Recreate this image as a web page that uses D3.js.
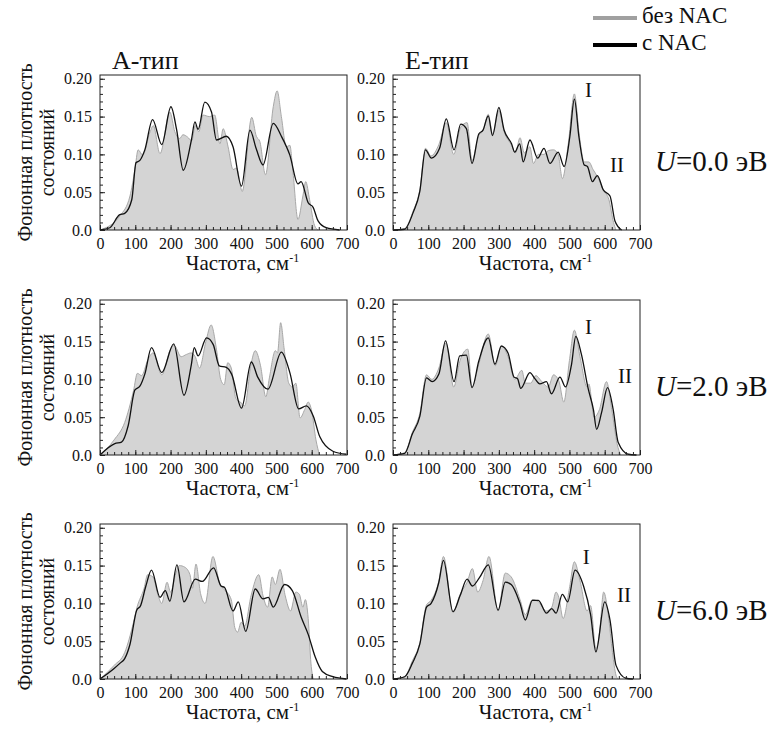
<!DOCTYPE html>
<html>
<head>
<meta charset="utf-8">
<script src="https://cdn.jsdelivr.net/npm/d3@7"></script>
<style>
  body { margin: 0; background: #fff; }
  svg, svg text { font-family: "Liberation Serif", "Times New Roman", Tinos, "DejaVu Serif", serif; fill: #111; }
</style>
</head>
<body>
<div id="chart"></div>
<script>
// frequency (cm-1), density pairs
const aU0Bez = [[0,0],[57,0.019],[85,0.045],[99,0.080],[108,0.106],[121,0.099],[142,0.130],[151,0.138],[170,0.101],[198,0.156],[212,0.130],[226,0.121],[235,0.126],[248,0.123],[260,0.118],[270,0.138],[280,0.130],[292,0.152],[310,0.150],[325,0.152],[340,0.114],[349,0.134],[363,0.110],[377,0.080],[387,0.082],[403,0.051],[430,0.149],[443,0.124],[453,0.117],[469,0.073],[491,0.163],[502,0.184],[514,0.150],[528,0.110],[538,0.112],[547,0.076],[561,0.014],[575,0.045],[583,0.064],[594,0.040],[608,0.006],[618,0]];
const aU0Nac = [[0,0],[28,0.003],[55,0.020],[70,0.022],[90,0.040],[102,0.089],[113,0.092],[127,0.106],[149,0.146],[175,0.113],[201,0.163],[217,0.133],[236,0.079],[259,0.119],[269,0.143],[278,0.133],[297,0.169],[316,0.156],[330,0.119],[358,0.124],[377,0.110],[401,0.058],[425,0.132],[443,0.107],[462,0.086],[491,0.141],[514,0.124],[538,0.099],[561,0.061],[570,0.064],[590,0.036],[604,0.030],[618,0.012],[641,0.003],[679,0]];

const eU0Bez = [[0,0],[33,0.002],[57,0.025],[76,0.053],[92,0.108],[108,0.098],[130,0.113],[151,0.142],[172,0.100],[192,0.136],[210,0.142],[224,0.092],[243,0.125],[255,0.131],[270,0.153],[282,0.127],[300,0.158],[315,0.130],[336,0.112],[347,0.102],[360,0.122],[372,0.102],[388,0.110],[398,0.088],[412,0.100],[428,0.100],[440,0.105],[455,0.106],[468,0.100],[480,0.068],[497,0.115],[514,0.180],[528,0.125],[542,0.090],[555,0.090],[567,0.080],[580,0.070],[597,0.052],[612,0.040],[625,0.010],[632,0]];
const eU0Nac = [[0,0],[33,0.001],[57,0.023],[76,0.051],[92,0.106],[109,0.095],[132,0.108],[151,0.147],[173,0.106],[192,0.140],[208,0.134],[224,0.088],[243,0.127],[255,0.132],[270,0.151],[282,0.125],[300,0.162],[315,0.132],[336,0.114],[345,0.103],[359,0.114],[369,0.090],[388,0.119],[410,0.095],[428,0.108],[445,0.088],[468,0.103],[485,0.084],[501,0.123],[514,0.173],[527,0.123],[542,0.086],[551,0.084],[565,0.064],[579,0.072],[596,0.053],[615,0.045],[629,0.012],[648,0]];

const aU2Bez = [[0,0],[40,0.020],[70,0.043],[95,0.085],[106,0.108],[118,0.105],[135,0.125],[150,0.135],[175,0.106],[200,0.140],[210,0.145],[230,0.130],[245,0.133],[258,0.135],[270,0.130],[282,0.115],[300,0.150],[315,0.172],[330,0.140],[342,0.100],[352,0.093],[362,0.122],[372,0.115],[385,0.075],[398,0.070],[410,0.065],[428,0.120],[440,0.138],[455,0.118],[470,0.077],[480,0.102],[497,0.138],[503,0.135],[512,0.175],[522,0.140],[535,0.095],[545,0.090],[555,0.095],[567,0.049],[580,0.060],[590,0.070],[600,0.058],[612,0.020],[622,0]];
const aU2Nac = [[0,0],[42,0.015],[61,0.017],[80,0.039],[99,0.086],[113,0.091],[127,0.107],[146,0.142],[175,0.109],[209,0.147],[238,0.079],[259,0.120],[267,0.142],[278,0.131],[302,0.155],[321,0.146],[338,0.118],[358,0.116],[373,0.107],[401,0.062],[429,0.123],[447,0.103],[476,0.087],[514,0.136],[538,0.109],[563,0.061],[585,0.065],[604,0.052],[623,0.024],[660,0.005],[698,0.001]];

const eU2Bez = [[0,0],[33,0.003],[55,0.030],[76,0.055],[95,0.106],[110,0.100],[130,0.115],[150,0.148],[172,0.090],[190,0.125],[212,0.140],[224,0.090],[243,0.120],[270,0.160],[290,0.118],[307,0.145],[326,0.130],[345,0.100],[365,0.112],[375,0.095],[390,0.095],[405,0.105],[420,0.098],[440,0.090],[455,0.106],[470,0.098],[484,0.070],[500,0.125],[514,0.165],[530,0.130],[550,0.090],[555,0.094],[570,0.050],[585,0.060],[605,0.097],[620,0.060],[635,0.015],[645,0]];
const eU2Nac = [[0,0],[33,0.002],[55,0.028],[76,0.051],[95,0.102],[111,0.097],[130,0.107],[149,0.151],[173,0.097],[189,0.131],[208,0.132],[224,0.089],[243,0.124],[270,0.155],[289,0.120],[307,0.144],[326,0.135],[343,0.103],[353,0.101],[362,0.088],[388,0.109],[402,0.101],[416,0.094],[435,0.097],[449,0.081],[473,0.103],[489,0.090],[506,0.120],[518,0.157],[534,0.133],[553,0.088],[568,0.060],[577,0.034],[591,0.056],[608,0.089],[624,0.060],[638,0.017],[667,0.001],[690,0]];

const aU6Bez = [[0,0],[40,0.018],[70,0.035],[95,0.075],[105,0.095],[125,0.120],[135,0.138],[150,0.135],[165,0.110],[175,0.100],[190,0.128],[200,0.115],[215,0.140],[225,0.150],[240,0.148],[255,0.138],[262,0.120],[272,0.152],[285,0.113],[298,0.100],[320,0.162],[340,0.125],[355,0.117],[372,0.105],[382,0.068],[390,0.062],[400,0.075],[410,0.070],[428,0.110],[450,0.138],[462,0.110],[475,0.095],[488,0.135],[497,0.125],[510,0.145],[525,0.110],[540,0.090],[555,0.115],[565,0.112],[575,0.095],[582,0.105],[590,0.080],[598,0.020],[604,0]];
const aU6Nac = [[0,0],[40,0.014],[57,0.021],[70,0.027],[85,0.046],[104,0.091],[115,0.097],[130,0.123],[146,0.144],[170,0.108],[185,0.117],[198,0.103],[218,0.151],[238,0.102],[270,0.132],[290,0.129],[322,0.147],[343,0.123],[353,0.121],[377,0.090],[392,0.102],[413,0.063],[440,0.119],[462,0.106],[477,0.108],[491,0.095],[523,0.125],[545,0.117],[570,0.082],[590,0.059],[610,0.029],[630,0.010],[660,0.003],[698,0]];

const eU6Bez = [[0,0],[33,0.003],[55,0.024],[76,0.048],[95,0.098],[108,0.104],[130,0.130],[143,0.162],[170,0.088],[190,0.112],[210,0.128],[225,0.146],[240,0.115],[255,0.130],[272,0.162],[298,0.090],[318,0.140],[335,0.135],[360,0.105],[375,0.085],[395,0.105],[412,0.102],[435,0.090],[450,0.095],[462,0.115],[470,0.108],[482,0.080],[500,0.120],[514,0.155],[530,0.130],[550,0.090],[560,0.097],[575,0.040],[585,0.060],[597,0.115],[610,0.085],[622,0.035],[632,0.005],[638,0]];
const eU6Nac = [[0,0],[33,0.003],[55,0.021],[76,0.046],[95,0.095],[108,0.100],[130,0.128],[143,0.157],[170,0.089],[190,0.110],[210,0.132],[225,0.123],[245,0.134],[270,0.151],[298,0.091],[318,0.128],[335,0.125],[360,0.100],[375,0.078],[395,0.104],[412,0.104],[435,0.087],[450,0.093],[462,0.087],[480,0.112],[495,0.102],[516,0.144],[540,0.123],[560,0.085],[575,0.036],[600,0.102],[615,0.078],[632,0.018],[660,0.001],[680,0]];

const columnTitles = ["А-тип", "Е-тип"];
const rowLabels = ["0.0", "2.0", "6.0"];
const freqTicks = [0, 100, 200, 300, 400, 500, 600, 700];
const densTicks = [0, 0.05, 0.10, 0.15, 0.20];
// peak labels I and II on the E-type panels (freq, density)
const peakI = [[544, 0.186], [544, 0.170], [538, 0.162]];
const peakII = [[615, 0.086], [638, 0.105], [635, 0.112]];

const panels = [
  [aU0Bez, aU0Nac, eU0Bez, eU0Nac],
  [aU2Bez, aU2Nac, eU2Bez, eU2Nac],
  [aU6Bez, aU6Nac, eU6Bez, eU6Nac]
];

const FONT = '"Liberation Serif", "Times New Roman", Tinos, "DejaVu Serif", serif';
const W = 771, H = 733;
const colX = [100, 393], pw = 247;
const rowY = [75, 300, 524], ph = 155;

const svg = d3.select("#chart").append("svg")
  .attr("width", W).attr("height", H)
  .attr("font-family", FONT);

const x = d3.scaleLinear().domain([0, 700]).range([0, pw]);
const y = d3.scaleLinear().domain([0, 0.205]).range([ph, 0]);

const area = d3.area()
  .x(d => x(d[0])).y0(ph).y1(d => y(d[1]))
  .curve(d3.curveMonotoneX);
const line = d3.line()
  .x(d => x(d[0])).y(d => y(d[1]))
  .curve(d3.curveMonotoneX);

const fmtY = d => d === 0 ? "0.0" : d3.format(".2f")(d);

rowY.forEach((top, r) => {
  colX.forEach((left, c) => {
    const g = svg.append("g").attr("transform", "translate(" + left + "," + top + ")");
    const bez = panels[r][c * 2], nac = panels[r][c * 2 + 1];

    g.append("path").datum(bez)
      .attr("d", area)
      .attr("fill", "#d4d4d4")
      .attr("stroke", "none");
    g.append("path").datum(bez)
      .attr("d", line)
      .attr("fill", "none")
      .attr("stroke", "#a8a8a8")
      .attr("stroke-width", 1);
    g.append("path").datum(nac)
      .attr("d", line)
      .attr("fill", "none")
      .attr("stroke", "#111")
      .attr("stroke-width", 1.3);

    // minor ticks, pointing inward
    g.append("g")
      .attr("transform", "translate(0," + ph + ")")
      .call(d3.axisBottom(x).tickValues(d3.range(0, 701, 20)).tickSize(-3).tickFormat(""))
      .call(a => a.select(".domain").remove());
    g.append("g")
      .call(d3.axisLeft(y).tickValues(d3.range(0, 0.2001, 0.01)).tickSize(-3).tickFormat(""))
      .call(a => a.select(".domain").remove());

    // major ticks + labels
    const xa = g.append("g")
      .attr("transform", "translate(0," + ph + ")")
      .call(d3.axisBottom(x).tickValues(freqTicks).tickSizeInner(-5).tickSizeOuter(0).tickPadding(8));
    xa.select(".domain").remove();

    const ya = g.append("g")
      .call(d3.axisLeft(y).tickValues(densTicks).tickFormat(fmtY).tickSizeInner(-5).tickSizeOuter(0).tickPadding(8));
    ya.select(".domain").remove();

    g.selectAll("g").attr("font-family", FONT).attr("font-size", 16);
    g.selectAll(".tick line").attr("stroke", "#222");

    g.append("rect")
      .attr("width", pw).attr("height", ph)
      .attr("fill", "none").attr("stroke", "#222").attr("stroke-width", 1);

    // x label
    const xl = g.append("text")
      .attr("x", pw / 2 + 19).attr("y", ph + 40)
      .attr("text-anchor", "middle").attr("font-size", 21);
    xl.append("tspan").text("Частота, см");
    xl.append("tspan").attr("dy", -8).attr("font-size", 12).text("-1");

    if (c === 1) {
      g.append("text").attr("x", x(peakI[r][0])).attr("y", y(peakI[r][1]))
        .attr("dy", "0.35em").attr("font-size", 21).text("I");
      g.append("text").attr("x", x(peakII[r][0])).attr("y", y(peakII[r][1]))
        .attr("dy", "0.35em").attr("font-size", 21).text("II");
    }
  });

  // y label, two lines
  const cy = top + ph / 2;
  const yl = svg.append("text")
    .attr("transform", "translate(25," + cy + ") rotate(-90)")
    .attr("text-anchor", "middle").attr("font-size", 20);
  yl.append("tspan").attr("x", 0).attr("dy", "0.35em").text("Фононная плотность");
  yl.append("tspan").attr("x", 0).attr("dy", 22).text("состояний");

  // U label
  const ul = svg.append("text")
    .attr("x", 655).attr("y", cy + 8)
    .attr("dy", "0.35em").attr("font-size", 29);
  ul.append("tspan").attr("font-style", "italic").text("U");
  ul.append("tspan").text("=" + rowLabels[r] + " эВ");
});

// column titles
columnTitles.forEach((t, c) => {
  svg.append("text")
    .attr("x", colX[c] + 12).attr("y", 60)
    .attr("dy", "0.35em").attr("font-size", 26).text(t);
});

// legend
const legend = svg.append("g");
[["без NAC", "#a0a0a0", 15], ["с NAC", "#000", 42]].forEach(([label, col, ly]) => {
  legend.append("line")
    .attr("x1", 593).attr("x2", 637).attr("y1", ly + 3).attr("y2", ly + 3)
    .attr("stroke", col).attr("stroke-width", 4);
  legend.append("text")
    .attr("x", 642).attr("y", ly).attr("dy", "0.35em")
    .attr("font-size", 23).text(label);
});
</script>
</body>
</html>
